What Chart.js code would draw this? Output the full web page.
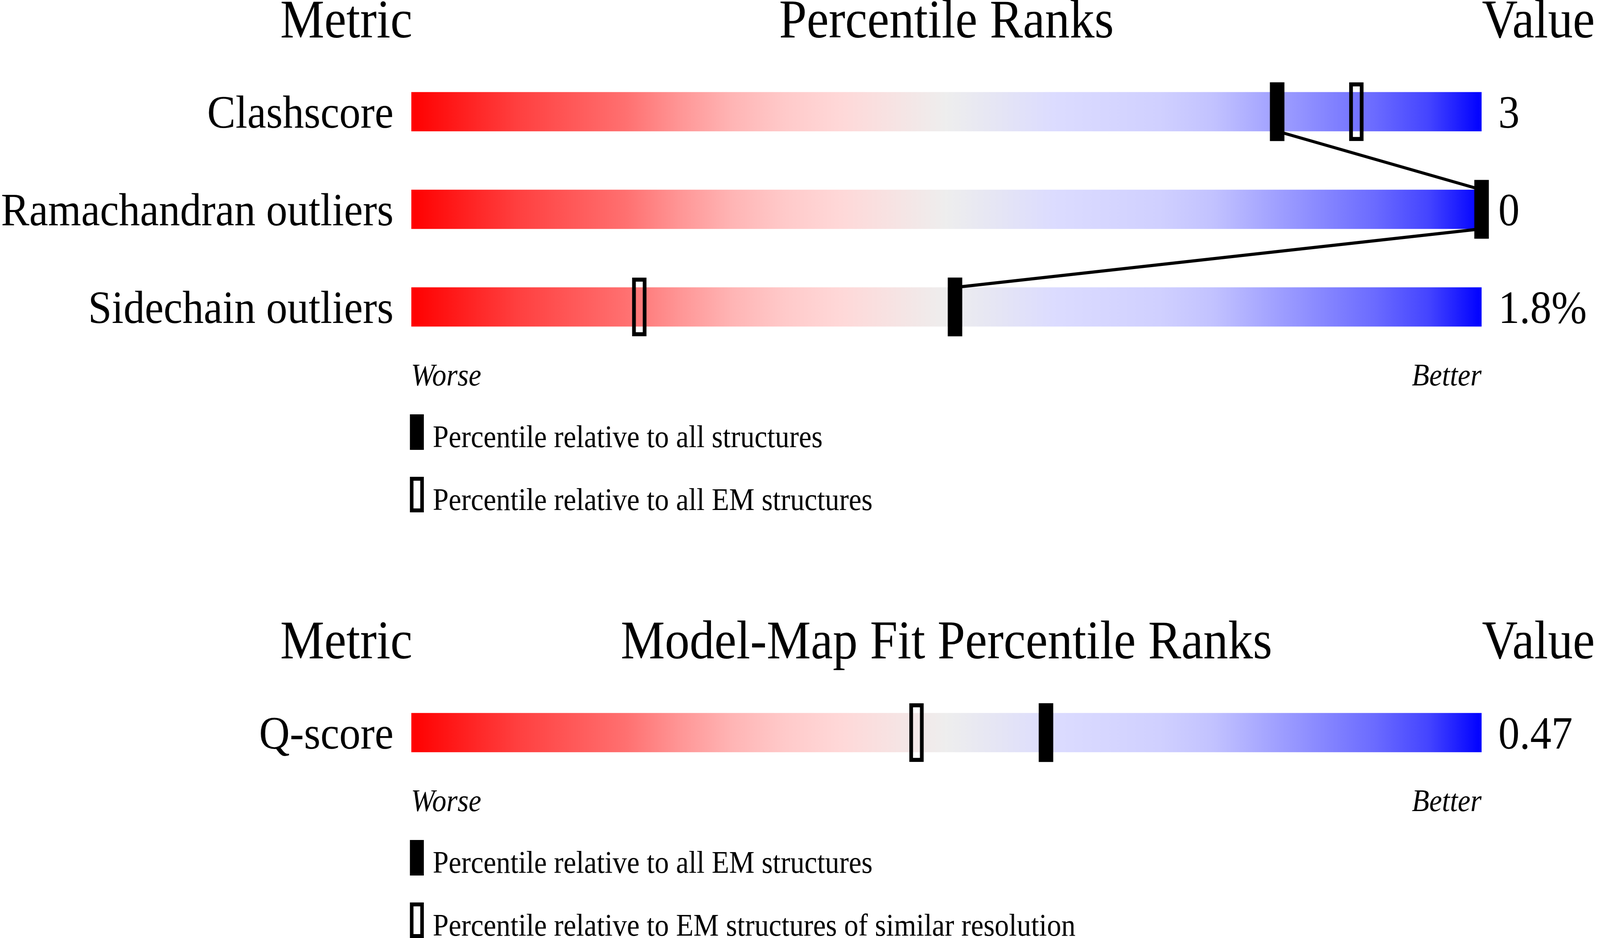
<!DOCTYPE html>
<html><head><meta charset="utf-8">
<script src="https://cdn.jsdelivr.net/npm/chart.js@4.4.1/dist/chart.umd.min.js"></script>
<style>
html,body{margin:0;padding:0;background:#fff;overflow:hidden;}
#wrap{position:relative;width:4485px;height:2402px;overflow:hidden;background:#fff;}
canvas{display:block;position:absolute;left:0;}
</style></head><body>
<div id="wrap">
<canvas id="c1" width="4485" height="1400"></canvas>
<canvas id="c2" width="4485" height="1002"></canvas>
</div>
<script>
// ---------- data ----------
const metricsTop = ['Clashscore', 'Ramachandran outliers', 'Sidechain outliers'];
const valuesTop = ['3', '0', '1.8%'];
const pctAllStructures = [80.9, 100, 50.8];
const pctAllEM = [88.3, 100, 21.3];
const headerTop = ['Metric', 'Percentile Ranks', 'Value'];
const legendTop = ['Percentile relative to all structures', 'Percentile relative to all EM structures'];

const metricsFit = ['Q-score'];
const valuesFit = ['0.47'];
const pctFitAllEM = [59.3];
const pctFitSimilarRes = [47.2];
const headerFit = ['Metric', 'Model-Map Fit Percentile Ranks', 'Value'];
const legendFit = ['Percentile relative to all EM structures', 'Percentile relative to EM structures of similar resolution'];

const scaleEnds = ['Worse', 'Better'];

// ---------- style / layout ----------
const SERIF = '"Liberation Serif", "Times New Roman", serif';
const PAGE_W = 4485, PAGE_H = 2402;
const TOP_H = 1400, FIT_H = 1002;
const BAR_LEFT = 1153, BAR_RIGHT = 4153;
const MARK_HALF = 20 / 30; // half marker width in percent units
const gradStops = [
  [0.00, '#ff0000'], [0.10, '#ff4040'], [0.20, '#ff7070'], [0.25, '#ff9595'],
  [0.30, '#ffb5b5'], [0.35, '#ffcaca'], [0.40, '#ffd8d8'], [0.45, '#f7e3e3'],
  [0.50, '#eeeeee'], [0.55, '#e5e5f5'], [0.60, '#dcdcff'], [0.70, '#d0d0ff'],
  [0.75, '#c2c2ff'], [0.80, '#a5a5ff'], [0.85, '#8888ff'], [0.90, '#6b6bff'],
  [0.95, '#4545ff'], [1.00, '#0000ff']
];

// fit the drawing to the actual viewport (canvas buffers stay at reference resolution)
(function fitToViewport() {
  let vw = window.innerWidth || document.documentElement.clientWidth || PAGE_W;
  let vh = window.innerHeight || document.documentElement.clientHeight || PAGE_H;
  let sx = vw / PAGE_W, sy = vh / PAGE_H;
  if (!(sx > 0)) sx = 1;
  if (!(sy > 0) || sy / sx > 1.3 || sy / sx < 0.75) sy = sx;
  const wrap = document.getElementById('wrap');
  wrap.style.width = (PAGE_W * sx) + 'px';
  wrap.style.height = (PAGE_H * sy) + 'px';
  const c1 = document.getElementById('c1'), c2 = document.getElementById('c2');
  c1.style.width = (PAGE_W * sx) + 'px'; c1.style.height = (TOP_H * sy) + 'px'; c1.style.top = '0px';
  c2.style.width = (PAGE_W * sx) + 'px'; c2.style.height = (FIT_H * sy) + 'px'; c2.style.top = (TOP_H * sy) + 'px';
})();

function gradientFill(c) {
  const chart = c.chart;
  const xs = chart.scales.x;
  if (!xs || !chart.chartArea) return '#eeeeee';
  const g = chart.ctx.createLinearGradient(xs.getPixelForValue(0), 0, xs.getPixelForValue(100), 0);
  gradStops.forEach(s => g.addColorStop(s[0], s[1]));
  return g;
}

function markerRange(arr) {
  return arr.map(p => (p == null ? null : [p - MARK_HALF, p + MARK_HALF]));
}

function makeTextPlugin(id, header, legend, filled, connect) {
  return {
    id: id,
    afterDatasetDraw(chart, args) {
      if (args.index !== 0 || !connect) return;
      const xs = chart.scales.x;
      const meta = chart.getDatasetMeta(0);
      const ctx = chart.ctx;
      ctx.save();
      ctx.strokeStyle = '#000';
      ctx.lineWidth = 8;
      for (let i = 0; i < filled.length - 1; i++) {
        if (filled[i] == null || filled[i + 1] == null) continue;
        const a = meta.data[i], b = meta.data[i + 1];
        ctx.beginPath();
        ctx.moveTo(xs.getPixelForValue(filled[i]), a.y + a.height / 2);
        ctx.lineTo(xs.getPixelForValue(filled[i + 1]), b.y - b.height / 2);
        ctx.stroke();
      }
      ctx.restore();
    },
    afterDraw(chart) {
      const xs = chart.scales.x;
      const meta = chart.getDatasetMeta(0);
      const first = meta.data[0], last = meta.data[meta.data.length - 1];
      const top = first.y - first.height / 2;
      const bottom = last.y + last.height / 2;
      const x0 = xs.getPixelForValue(0), x1 = xs.getPixelForValue(100), xm = xs.getPixelForValue(50);
      const ctx = chart.ctx;
      ctx.save();
      ctx.fillStyle = '#000';
      ctx.strokeStyle = '#000';
      ctx.textBaseline = 'alphabetic';
      // headers
      ctx.font = '139px ' + SERIF;
      const hy = top - 140;
      ctx.textAlign = 'right'; ctx.fillText(header[0], x0 + 3, hy);
      ctx.textAlign = 'center'; ctx.fillText(header[1], xm, hy);
      ctx.textAlign = 'left'; ctx.fillText(header[2], x1 + 1, hy);
      // worse / better
      ctx.font = 'italic 80px ' + SERIF;
      const wy = bottom + 151;
      ctx.textAlign = 'left'; ctx.fillText(scaleEnds[0], x0 - 1, wy);
      ctx.textAlign = 'right'; ctx.fillText(scaleEnds[1], x1, wy);
      // legend
      ctx.font = '80px ' + SERIF;
      ctx.textAlign = 'left';
      const ly = bottom + 225;
      ctx.fillRect(x0 - 4, ly, 39, 91);
      ctx.fillText(legend[0], x0 + 60, ly + 84);
      const ly2 = ly + 160;
      ctx.lineWidth = 10;
      ctx.strokeRect(x0 - 4 + 5, ly2 + 5, 39 - 10, 91 - 10);
      ctx.fillText(legend[1], x0 + 60, ly2 + 85);
      ctx.restore();
    }
  };
}

function makePanel(canvas, cfg) {
  return new Chart(canvas, {
    type: 'bar',
    data: {
      labels: cfg.metrics,
      datasets: [
        { label: 'range', data: cfg.metrics.map(() => 100), backgroundColor: gradientFill,
          borderWidth: 0, barThickness: 100, grouped: false, order: 3 },
        { label: cfg.legend[1], data: markerRange(cfg.open), backgroundColor: 'rgba(0,0,0,0)',
          borderColor: '#000', borderWidth: 10, borderSkipped: false, barThickness: 150,
          grouped: false, order: 2, clip: false },
        { label: cfg.legend[0], data: markerRange(cfg.filled), backgroundColor: '#000',
          borderWidth: 0, barThickness: 150, grouped: false, order: 1, clip: false }
      ]
    },
    options: {
      indexAxis: 'y',
      responsive: false,
      devicePixelRatio: 1,
      animation: false,
      events: [],
      layout: { padding: { top: cfg.padTop, bottom: cfg.padBottom, left: 0, right: 0 } },
      scales: {
        x: { type: 'linear', min: 0, max: 100, display: false },
        y: {
          type: 'category', position: 'left', offset: true,
          grid: { display: false, drawTicks: false }, border: { display: false },
          ticks: { font: { family: SERIF, size: 119 }, color: '#000', padding: 50, labelOffset: 10, autoSkip: false },
          afterFit(s) { s.width = BAR_LEFT; }
        },
        yv: {
          type: 'category', position: 'right', labels: cfg.values, offset: true,
          grid: { display: false, drawTicks: false }, border: { display: false },
          ticks: { font: { family: SERIF, size: 119 }, color: '#000', padding: 47, labelOffset: 10, autoSkip: false },
          afterFit(s) { s.width = PAGE_W - BAR_RIGHT; }
        }
      },
      plugins: { legend: { display: false }, tooltip: { enabled: false } }
    },
    plugins: [makeTextPlugin(cfg.id, cfg.header, cfg.legend, cfg.filled, cfg.filled.length > 1)]
  });
}

makePanel(document.getElementById('c1'), {
  id: 'panelTextTop', metrics: metricsTop, values: valuesTop, filled: pctAllStructures, open: pctAllEM,
  header: headerTop, legend: legendTop, padTop: 161, padBottom: TOP_H - 911
});
makePanel(document.getElementById('c2'), {
  id: 'panelTextFit', metrics: metricsFit, values: valuesFit, filled: pctFitAllEM, open: pctFitSimilarRes,
  header: headerFit, legend: legendFit, padTop: 351, padBottom: FIT_H - 601
});
</script>
</body></html>
